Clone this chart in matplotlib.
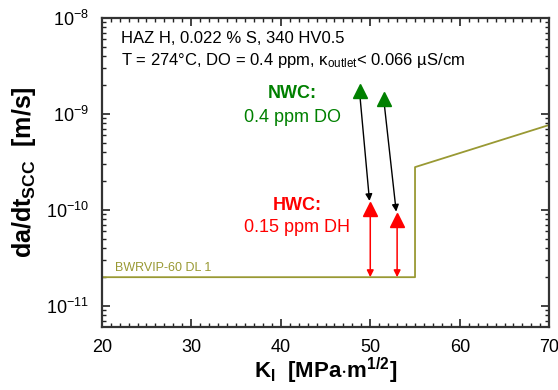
import matplotlib
matplotlib.use("Agg")
import matplotlib.pyplot as plt
from matplotlib.patches import FancyArrowPatch
from matplotlib.ticker import MultipleLocator, LogLocator, NullFormatter

plt.rcParams['font.family'] = ['Liberation Sans', 'DejaVu Sans']
plt.rcParams['mathtext.fontset'] = 'custom'
plt.rcParams['mathtext.rm'] = 'Liberation Sans'
plt.rcParams['mathtext.it'] = 'Liberation Sans:italic'
plt.rcParams['mathtext.bf'] = 'Liberation Sans:bold'
plt.rcParams['axes.unicode_minus'] = False

# BWRVIP-60 disposition line 1
dl_k = [20, 55, 55, 70]
dl_rate = [2.0e-11, 2.0e-11, 2.8e-10, 7.7e-10]

# measured growth rates, normal and hydrogen water chemistry
nwc_k = [48.8, 51.5]
nwc_rate = [1.72e-9, 1.44e-9]
hwc_k = [50.0, 53.0]
hwc_rate = [1.02e-10, 7.9e-11]

green = '#008000'
red = '#ff0000'
olive = '#999933'

fig = plt.figure(figsize=(5.58, 3.90), dpi=100)
ax = fig.add_axes([0.1823, 0.1623, 0.8021, 0.7915])

ax.plot(dl_k, dl_rate, color=olive, lw=1.3, zorder=2)

# NWC -> HWC drop
for k0, r0, k1, r1 in zip(nwc_k, nwc_rate, hwc_k, hwc_rate):
    ax.add_patch(FancyArrowPatch((k0, r0), (k1, r1), arrowstyle='-|>,head_length=4,head_width=2',
                                 color='black', lw=1.0, shrinkA=4, shrinkB=6, zorder=3))
# HWC down to DL 1
for k1, r1 in zip(hwc_k, hwc_rate):
    ax.add_patch(FancyArrowPatch((k1, r1), (k1, dl_rate[0]), arrowstyle='-|>,head_length=4,head_width=2',
                                 color=red, lw=1.1, shrinkA=4, shrinkB=0, zorder=3))

ax.plot(nwc_k, nwc_rate, ls='none', marker='^', ms=10, color=green, zorder=4)
ax.plot(hwc_k, hwc_rate, ls='none', marker='^', ms=10, color=red, zorder=4)

ax.set_yscale('log')
ax.set_xlim(20, 70)
ax.set_ylim(6.1e-12, 1e-8)

ax.xaxis.set_major_locator(MultipleLocator(10))
ax.xaxis.set_minor_locator(MultipleLocator(1))
ax.yaxis.set_major_locator(LogLocator(base=10, numticks=10))
ax.yaxis.set_minor_locator(LogLocator(base=10, subs=range(2, 10), numticks=10))
ax.yaxis.set_minor_formatter(NullFormatter())

ax.tick_params(which='both', direction='in', top=True, right=True, colors='#222222', labelcolor='black')
ax.tick_params(which='major', length=6, width=1.2, labelsize=13, pad=9)
ax.tick_params(which='minor', length=3, width=1.0)
for sp in ax.spines.values():
    sp.set_linewidth(1.6)
    sp.set_color('#333333')

ax.set_xlabel(r'K$_{\mathbf{I}}$  [MPa$\mathbf{\cdot}$m$^{\mathbf{1/2}}$]', fontsize=16, fontweight='bold', labelpad=0)
ax.set_ylabel(r'$\mathbf{da/dt_{SCC}}$  [m/s]', fontsize=18, fontweight='bold', labelpad=6)

ax.text(0.043, 0.935, 'HAZ H, 0.022 % S, 340 HV0.5', transform=ax.transAxes,
        fontsize=12, va='center', ha='left')
ax.text(0.043, 0.862, 'T = 274°C, DO = 0.4 ppm, \u03ba$_{\\mathrm{outlet}}$< 0.066 \u00b5S/cm',
        transform=ax.transAxes, fontsize=12, va='center', ha='left')

ax.text(41.3, 0.757, 'NWC:', transform=ax.get_xaxis_transform(), color=green,
        fontsize=13, fontweight='bold', ha='center', va='center')
ax.text(41.3, 0.679, '0.4 ppm DO', transform=ax.get_xaxis_transform(), color=green,
        fontsize=13, ha='center', va='center')
ax.text(41.8, 0.392, 'HWC:', transform=ax.get_xaxis_transform(), color=red,
        fontsize=13, fontweight='bold', ha='center', va='center')
ax.text(41.8, 0.320, '0.15 ppm DH', transform=ax.get_xaxis_transform(), color=red,
        fontsize=13, ha='center', va='center')
ax.text(0.030, 0.191, 'BWRVIP-60 DL 1', transform=ax.transAxes, color=olive,
        fontsize=9, ha='left', va='center')

fig.savefig('out.png', dpi=100)
